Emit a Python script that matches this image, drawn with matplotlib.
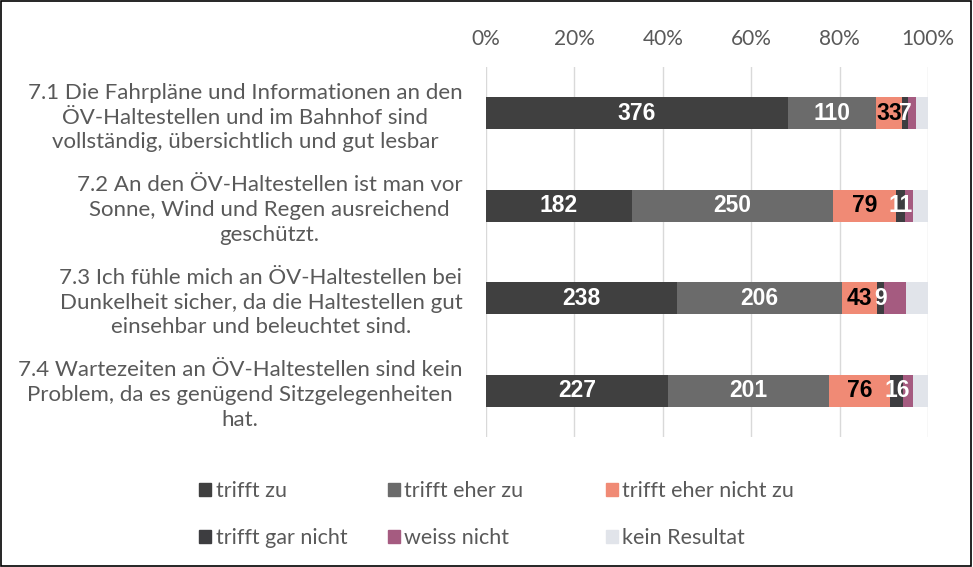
import numpy as np
import matplotlib.pyplot as plt
from matplotlib.patches import Rectangle, Patch

plt.rcParams['font.family'] = ['Lato', 'DejaVu Sans']

questions = [
    "7.1 Die Fahrpläne und Informationen an den\nÖV-Haltestellen und im Bahnhof sind\nvollständig, übersichtlich und gut lesbar",
    "7.2 An den ÖV-Haltestellen ist man vor\nSonne, Wind und Regen ausreichend\ngeschützt.",
    "7.3 Ich fühle mich an ÖV-Haltestellen bei\nDunkelheit sicher, da die Haltestellen gut\neinsehbar und beleuchtet sind.",
    "7.4 Wartezeiten an ÖV-Haltestellen sind kein\nProblem, da es genügend Sitzgelegenheiten\nhat.",
]
series = ["trifft zu", "trifft eher zu", "trifft eher nicht zu",
          "trifft gar nicht", "weiss nicht", "kein Resultat"]
trifft_zu = [376, 182, 238, 227]
eher_zu = [110, 250, 206, 201]
eher_nicht_zu = [33, 79, 43, 76]
gar_nicht = [7, 11, 9, 16]
weiss_nicht = [10, 10, 27, 12]
kein_resultat = [15, 19, 28, 19]

colors = ["#404040", "#6b6b6b", "#f08a75", "#3d3d40", "#a55b80", "#e1e4ea"]
label_colors = ["white", "white", "black", "white", None, None]

data = np.array([trifft_zu, eher_zu, eher_nicht_zu, gar_nicht,
                 weiss_nicht, kein_resultat], dtype=float)
totals = data.sum(axis=0)
pct = data / totals * 100

fig = plt.figure(figsize=(9.73, 5.67), dpi=100)
ax = fig.add_axes([0.4995, 0.2293, 0.4543, 0.6526])

y = np.arange(len(questions))
left = np.zeros(len(questions))
for i, name in enumerate(series):
    ax.barh(y, pct[i], left=left, height=0.35, color=colors[i],
            label=name, zorder=3)
    if label_colors[i]:
        for j in range(len(questions)):
            ax.text(left[j] + pct[i][j] / 2, y[j], str(int(data[i][j])),
                    ha='center', va='center', color=label_colors[i],
                    fontsize=16.5, fontweight='bold',
                    family='Liberation Sans', zorder=4)
    left += pct[i]

ax.set_xlim(0, 100)
ax.set_ylim(3.5, -0.5)
ax.set_xticks(np.arange(0, 101, 20))
ax.set_xticklabels([f"{v}%" for v in range(0, 101, 20)])
ax.xaxis.tick_top()
ax.tick_params(axis='x', length=0, labelsize=15, colors='#595959', pad=13)
ax.set_yticks(y)
ax.set_yticklabels(questions, multialignment='center', linespacing=1.3)
ax.tick_params(axis='y', length=0, labelsize=16, colors='#595959', pad=17)
ax.grid(axis='x', color='#d9d9d9', linewidth=1, zorder=0)
for s in ax.spines.values():
    s.set_visible(False)

# legend in three columns
order = [(0, 3), (1, 4), (2, 5)]
xs = [0.205, 0.399, 0.623]
for (a, b), x in zip(order, xs):
    handles = [Patch(color=colors[a]), Patch(color=colors[b])]
    fig.legend(handles, [series[a], series[b]], loc='upper left',
               bbox_to_anchor=(x, 0.152), frameon=False,
               fontsize=15.5, labelcolor='#595959', handlelength=0.55,
               handleheight=0.55, handletextpad=0.2, labelspacing=1.25,
               borderpad=0, borderaxespad=0)

fig.patches.append(Rectangle((0.001, 0.001), 0.997, 0.997,
                             transform=fig.transFigure, fill=False,
                             edgecolor='black', linewidth=1.2))

fig.savefig("out.png", dpi=100)
